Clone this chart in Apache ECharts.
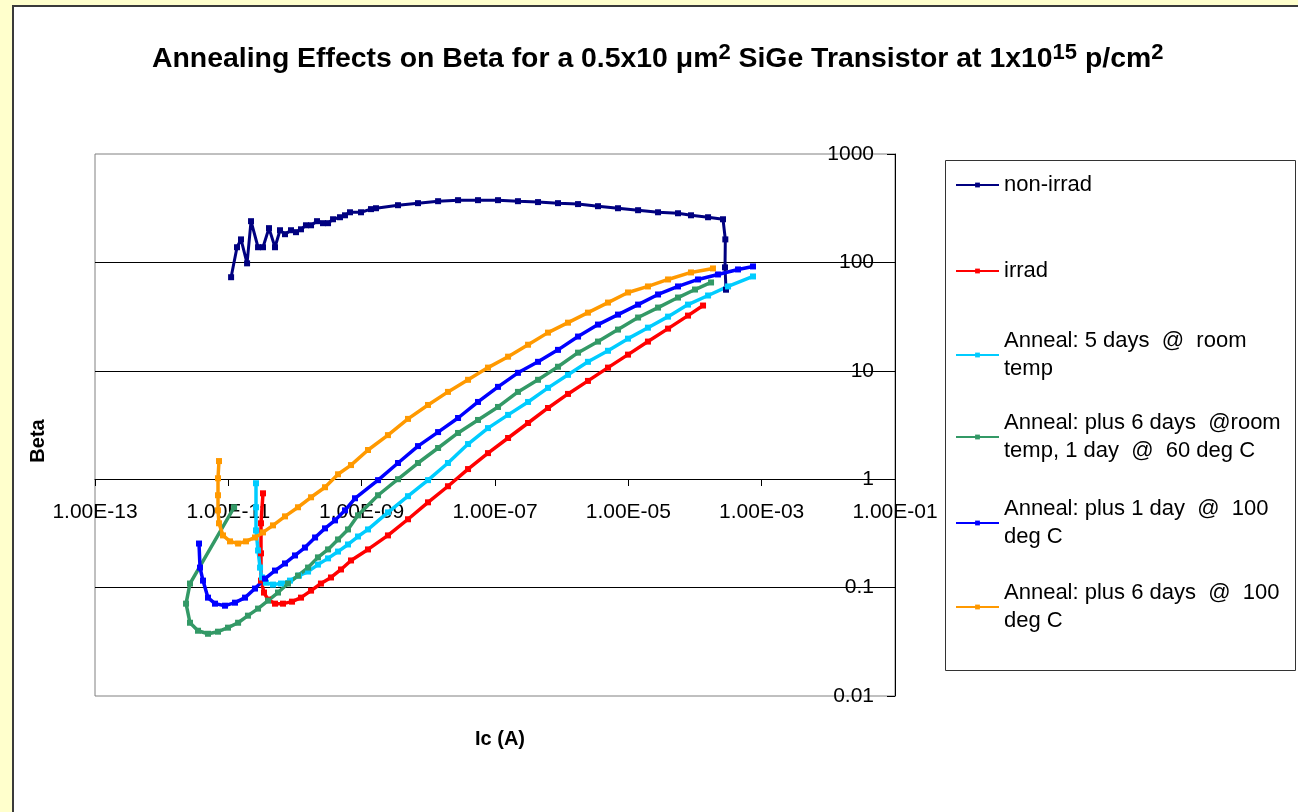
<!DOCTYPE html>
<html><head><meta charset="utf-8">
<script src="https://cdn.jsdelivr.net/npm/echarts@6/dist/echarts.min.js"></script>
<style>html,body{margin:0;padding:0;background:#FFFFCC}#c{width:1298px;height:812px}</style>
</head><body><div id="c"></div>
<script>
const FONT = '"Liberation Sans", Arial, Helvetica, sans-serif';

// ---- data (Ic [A], Beta) ----
const nonIrrad = [[1.10e-11,73],[1.35e-11,138],[1.55e-11,163],[1.91e-11,98],[2.19e-11,240],[2.79e-11,138],[3.31e-11,138],[4.07e-11,207],[5.01e-11,138],[5.96e-11,198],[7.08e-11,182],[8.71e-11,198],[1.035e-10,190],[1.23e-10,202],[1.46e-10,220],[1.74e-10,220],[2.14e-10,240],[2.63e-10,230],[3.13e-10,230],[3.72e-10,250],[4.73e-10,261],[5.62e-10,272],[6.68e-10,290],[9.77e-10,290],[1.38e-9,310],[1.64e-9,316],[3.51e-9,337],[7.0e-9,352],[1.40e-8,367],[2.79e-8,375],[5.56e-8,375],[1.11e-7,375],[2.21e-7,367],[4.42e-7,360],[8.81e-7,352],[1.76e-6,345],[3.51e-6,330],[7.0e-6,316],[1.40e-5,303],[2.79e-5,290],[5.56e-5,284],[8.71e-5,272],[1.57e-4,261],[2.63e-4,250],[2.85e-4,163],[2.82e-4,90],[2.92e-4,56]];
const irrad = [[3.31e-11,0.741],[3.09e-11,0.392],[3.09e-11,0.207],[3.09e-11,0.116],[3.43e-11,0.090],[3.94e-11,0.0775],[5.01e-11,0.0711],[6.61e-11,0.0711],[9.02e-11,0.0742],[1.23e-10,0.0808],[1.74e-10,0.0938],[2.45e-10,0.109],[3.47e-10,0.124],[4.90e-10,0.147],[6.92e-10,0.178],[1.245e-9,0.225],[2.48e-9,0.303],[4.95e-9,0.427],[9.89e-9,0.612],[1.97e-8,0.861],[3.94e-8,1.24],[7.85e-8,1.74],[1.57e-7,2.40],[3.13e-7,3.30],[6.24e-7,4.54],[1.245e-6,6.12],[2.48e-6,8.07],[4.95e-6,10.7],[9.89e-6,14.1],[1.97e-5,18.6],[3.94e-5,24.5],[7.85e-5,32.3],[1.32e-4,40.0]];
const anneal5Room = [[2.60e-11,0.918],[2.60e-11,0.551],[2.60e-11,0.337],[2.79e-11,0.220],[2.99e-11,0.153],[3.20e-11,0.124],[3.67e-11,0.111],[4.68e-11,0.1066],[6.17e-11,0.109],[8.41e-11,0.116],[1.15e-10,0.129],[1.57e-10,0.1406],[2.21e-10,0.163],[3.13e-10,0.186],[4.42e-10,0.215],[6.24e-10,0.250],[8.81e-10,0.296],[1.245e-9,0.344],[2.48e-9,0.494],[4.95e-9,0.697],[9.89e-9,0.98],[1.97e-8,1.41],[3.94e-8,2.11],[7.85e-8,2.96],[1.57e-7,3.92],[3.13e-7,5.16],[6.24e-7,6.96],[1.245e-6,9.18],[2.48e-6,12.1],[4.95e-6,15.3],[9.89e-6,19.8],[1.97e-5,25.0],[3.94e-5,31.6],[7.85e-5,40.8],[1.57e-4,49.5],[3.13e-4,60.0],[7.41e-4,74.2]];
const anneal6Room60 = [[1.22e-11,0.551],[2.66e-12,0.109],[2.32e-12,0.0711],[2.66e-12,0.0474],[3.51e-12,0.040],[4.95e-12,0.0375],[7.0e-12,0.0392],[9.89e-12,0.0427],[1.40e-11,0.0474],[1.97e-11,0.0551],[2.79e-11,0.064],[3.94e-11,0.0758],[5.56e-11,0.090],[7.85e-11,0.109],[1.11e-10,0.129],[1.57e-10,0.153],[2.21e-10,0.190],[3.13e-10,0.225],[4.42e-10,0.278],[6.24e-10,0.344],[8.81e-10,0.464],[1.76e-9,0.711],[3.51e-9,1.0],[7.0e-9,1.41],[1.40e-8,1.94],[2.79e-8,2.67],[5.56e-8,3.52],[1.11e-7,4.64],[2.21e-7,6.39],[4.42e-7,8.26],[8.81e-7,10.9],[1.76e-6,14.7],[3.51e-6,18.6],[7.0e-6,24.0],[1.40e-5,31.0],[2.79e-5,38.3],[5.56e-5,47.4],[1.0e-4,56.2],[1.74e-4,65.3]];
const anneal1Day100 = [[3.63e-12,0.255],[3.76e-12,0.153],[4.17e-12,0.116],[4.95e-12,0.0808],[6.31e-12,0.0711],[8.91e-12,0.0681],[1.26e-11,0.0726],[1.78e-11,0.0808],[2.51e-11,0.098],[3.55e-11,0.121],[5.01e-11,0.1436],[7.08e-11,0.167],[1.0e-10,0.198],[1.41e-10,0.234],[2.0e-10,0.290],[2.82e-10,0.352],[3.98e-10,0.417],[5.62e-10,0.516],[7.94e-10,0.667],[1.76e-9,0.98],[3.51e-9,1.41],[7.0e-9,2.02],[1.40e-8,2.72],[2.79e-8,3.67],[5.56e-8,5.16],[1.11e-7,7.11],[2.21e-7,9.58],[4.42e-7,12.1],[8.81e-7,15.6],[1.76e-6,20.7],[3.51e-6,26.7],[7.0e-6,33.0],[1.40e-5,40.8],[2.79e-5,50.6],[5.56e-5,60.0],[1.11e-4,69.6],[2.21e-4,77.4],[4.42e-4,86.1],[7.41e-4,91.8]];
const anneal6Days100 = [[7.24e-12,1.47],[7.0e-12,1.02],[7.0e-12,0.711],[7.0e-12,0.516],[7.24e-12,0.392],[8.32e-12,0.303],[1.06e-11,0.267],[1.40e-11,0.255],[1.84e-11,0.267],[2.51e-11,0.290],[3.31e-11,0.323],[4.68e-11,0.375],[7.08e-11,0.454],[1.11e-10,0.551],[1.74e-10,0.681],[2.82e-10,0.843],[4.42e-10,1.11],[6.92e-10,1.35],[1.245e-9,1.86],[2.48e-9,2.55],[4.95e-9,3.60],[9.89e-9,4.84],[1.97e-8,6.39],[3.94e-8,8.26],[7.85e-8,10.7],[1.57e-7,13.5],[3.13e-7,17.4],[6.24e-7,22.5],[1.245e-6,27.8],[2.48e-6,34.4],[4.95e-6,42.6],[9.89e-6,52.8],[1.97e-5,60.0],[3.94e-5,69.6],[8.71e-5,80.8],[1.86e-4,88.0]];

const seriesData = [nonIrrad, irrad, anneal5Room, anneal6Room60, anneal1Day100, anneal6Days100];
const seriesNames = ['non-irrad', 'irrad', 'Anneal: 5 days @ room temp', 'Anneal: plus 6 days @room temp, 1 day @ 60 deg C', 'Anneal: plus 1 day @ 100 deg C', 'Anneal: plus 6 days @ 100 deg C'];
const legendLabels = ['non-irrad', 'irrad', 'Anneal: 5 days  @  room\ntemp', 'Anneal: plus 6 days  @room\ntemp, 1 day  @  60 deg C', 'Anneal: plus 1 day  @  100\ndeg C', 'Anneal: plus 6 days  @  100\ndeg C'];
const seriesColors = ['#000080', '#FF0000', '#00CCFF', '#339966', '#0000FF', '#FF9900'];

const xTickValues = [1e-13, 1e-11, 1e-9, 1e-7, 1e-5, 1e-3, 1e-1];
const xTickLabels = ['1.00E-13', '1.00E-11', '1.00E-09', '1.00E-07', '1.00E-05', '1.00E-03', '1.00E-01'];
const yTickValues = [0.01, 0.1, 1, 10, 100, 1000];
const yTickLabels = ['0.01', '0.1', '1', '10', '100', '1000'];

function findLabel(vals, labels, v) {
  const lv = Math.log10(v);
  for (let k = 0; k < vals.length; k++) if (Math.abs(Math.log10(vals[k]) - lv) < 0.01) return labels[k];
  return '';
}

const legendTops = [171, 257, 313, 395, 481, 565];

const chart = echarts.init(document.getElementById('c'), null, {renderer: 'canvas'});
const option = {
  backgroundColor: '#FFFFCC',
  animation: false,
  title: {
    left: 152, top: 42, padding: 0,
    text: '{t|Annealing Effects on Beta for a 0.5x10 μm}{s|2}{t| SiGe Transistor at 1x10}{s|15}{t| p/cm}{s|2}',
    textStyle: {
      rich: {
        t: {fontSize: 28.4, fontWeight: 'bold', fontFamily: FONT, color: '#000', lineHeight: 34},
        s: {fontSize: 22, fontWeight: 'bold', fontFamily: FONT, color: '#000', lineHeight: 20, verticalAlign: 'top'}
      }
    }
  },
  legend: seriesNames.map((name, i) => ({
    data: [name],
    left: 955, top: legendTops[i], padding: 0,
    orient: 'vertical',
    itemWidth: 43, itemHeight: 6,
    selectedMode: false,
    lineStyle: {width: 2},
    formatter: () => legendLabels[i],
    textStyle: {fontFamily: FONT, fontSize: 22, color: '#000', lineHeight: 28,
      padding: legendLabels[i].indexOf('\n') >= 0 ? [28, 0, 0, 0] : 0}
  })),
  grid: {left: 95, top: 154, width: 800, height: 542, show: true, borderColor: '#808080', borderWidth: 1, backgroundColor: 'transparent'},
  xAxis: {
    type: 'log', min: 1e-13, max: 1e-1,
    position: 'bottom', offset: -217,
    axisLine: {show: true, onZero: false, lineStyle: {color: '#000', width: 1}},
    axisTick: {show: true, inside: false, length: 7, customValues: xTickValues, lineStyle: {color: '#000'}},
    axisLabel: {fontSize: 21, fontFamily: FONT, color: '#000', margin: 23, customValues: xTickValues,
      formatter: v => findLabel(xTickValues, xTickLabels, v)},
    splitLine: {show: false}
  },
  yAxis: {
    type: 'log', min: 0.01, max: 1000,
    position: 'right',
    axisLine: {show: true, lineStyle: {color: '#000', width: 1}},
    axisTick: {show: true, inside: true, length: 8, lineStyle: {color: '#000'}},
    axisLabel: {inside: true, margin: 21, fontSize: 21, fontFamily: FONT, color: '#000',
      formatter: v => findLabel(yTickValues, yTickLabels, v)},
    splitLine: {show: true, showMinLine: false, showMaxLine: false, lineStyle: {color: '#000', width: 1}}
  },
  graphic: [
    {type: 'rect', z: -100, silent: true, shape: {x: 13, y: 6, width: 1400, height: 900},
      style: {fill: '#FFFFFF', stroke: '#3a3a3a', lineWidth: 2}},
    {type: 'rect', z: -50, silent: true, shape: {x: 945.5, y: 160.5, width: 350, height: 510},
      style: {fill: '#FFFFFF', stroke: '#333333', lineWidth: 1}},
    {type: 'text', x: 38, y: 441, rotation: Math.PI / 2, silent: true,
      style: {text: 'Beta', fontSize: 20, fontWeight: 'bold', fontFamily: FONT, fill: '#000', align: 'center', verticalAlign: 'middle'}},
    {type: 'text', x: 500, y: 739, silent: true,
      style: {text: 'Ic (A)', fontSize: 20, fontWeight: 'bold', fontFamily: FONT, fill: '#000', align: 'center', verticalAlign: 'middle'}}
  ],
  series: seriesData.map((d, i) => ({
    type: 'line', name: seriesNames[i], data: d,
    symbol: 'rect', symbolSize: 6, showSymbol: true, showAllSymbol: true,
    lineStyle: {width: i === 0 ? 3 : 3.5, color: seriesColors[i]},
    itemStyle: {color: seriesColors[i]},
    emphasis: {disabled: true}
  }))
};
chart.setOption(option);
</script>
</body></html>
